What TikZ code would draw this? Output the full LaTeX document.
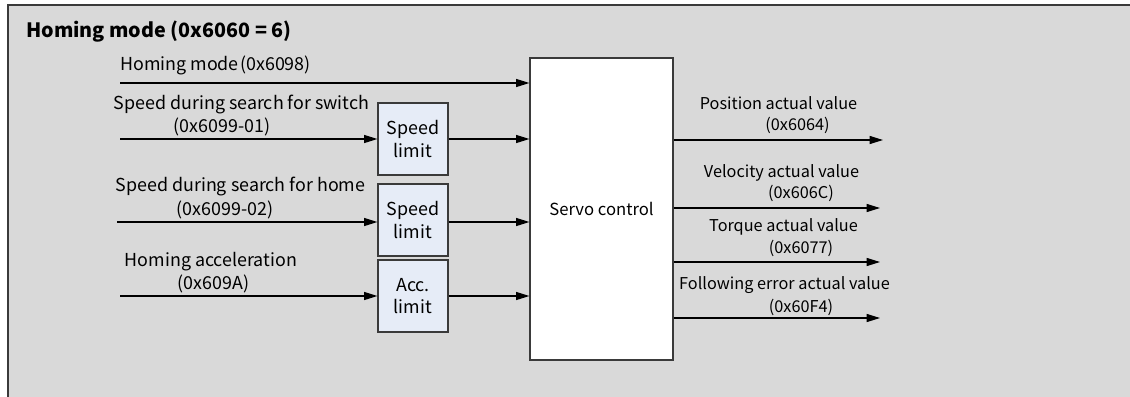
\documentclass[tikz,border=0pt]{standalone}
\usepackage{fontspec}
\setmainfont{Noto Sans CJK SC}
\usetikzlibrary{arrows.meta}
\definecolor{bggray}{HTML}{D9D9D9}
\definecolor{boxblue}{HTML}{E6ECF7}
\definecolor{edge}{HTML}{3A3A3A}
\tikzset{
  lbl/.style={inner sep=0pt, font=\fontsize{13.4}{15}\selectfont},
  rlbl/.style={inner sep=0pt, font=\fontsize{12.2}{14}\selectfont},
  limbox/.style={draw=edge, line width=0.9pt, fill=boxblue, minimum width=52.5pt, minimum height=54pt, inner sep=0pt, align=center, font=\fontsize{13.4}{17}\selectfont},
  servobox/.style={draw=edge, line width=0.9pt, fill=white, minimum width=107.25pt, minimum height=226.5pt, inner sep=0pt, font=\fontsize{12.5}{15}\selectfont},
  sig/.style={line width=0.9pt, -{Triangle[length=10pt, width=6pt]}},
}
\begin{document}
\begin{tikzpicture}[x=0.75pt, y=-0.75pt]
\useasboundingbox (0,0) rectangle (1130,396);
\fill[bggray] (8,5) rectangle (1135,400);
\draw[edge, line width=1.1pt] (8,400) -- (8,5) -- (1135,5);
\node[anchor=west, inner sep=0pt, font=\fontsize{14.8}{17}\selectfont\bfseries] (title) at (26,32) {Homing mode (0x6060 = 6)};

\node[servobox] (servo) at (601.5,209) {Servo control};
\node[limbox] (sp1) at (413,139) {Speed\\limit};
\node[limbox] (sp2) at (413,220) {Speed\\limit};
\node[limbox] (acc) at (413,296) {Acc.\\limit};

\coordinate (in0) at (120,83);
\coordinate (in1) at (120,139);
\coordinate (in2) at (117,222);
\coordinate (in3) at (120,296);

\draw[sig] (in0) -- (in0 -| servo.west);
\draw[sig] (in1) -- (in1 -| sp1.west);
\draw[sig] (in2) -- (in2 -| sp2.west);
\draw[sig] (in3) -- (in3 -| acc.west);
\draw[sig] (sp1.east) -- (sp1.east -| servo.west);
\draw[sig] (sp2.east |- in2) -- (in2 -| servo.west);
\draw[sig] (acc.east) -- (acc.east -| servo.west);

\node[lbl, anchor=west] (l0) at (120,65) {Homing mode\hspace{0.08em}(0x6098)};
\node[lbl] (l1a) at (241.5,105) {Speed during search for switch};
\node[lbl] (l1b) at (222,127) {(0x6099-01)};
\node[lbl] (l2a) at (240.5,187) {Speed during search for home};
\node[lbl] (l2b) at (225,210) {(0x6099-02)};
\node[lbl] (l3a) at (211,262) {Homing acceleration};
\node[lbl] (l3b) at (213.5,284) {(0x609A)};

\coordinate (o0) at (883,140);
\coordinate (o1) at (880,208);
\coordinate (o2) at (880,262);
\coordinate (o3) at (880,318);
\draw[sig] (o0 -| servo.east) -- (o0);
\draw[sig] (o1 -| servo.east) -- (o1);
\draw[sig] (o2 -| servo.east) -- (o2);
\draw[sig] (o3 -| servo.east) -- (o3);

\node[rlbl] (r0a) at (778.5,103) {Position actual value};
\node[rlbl] (r0b) at (797.5,125) {(0x6064)};
\node[rlbl] (r1a) at (781.5,173) {Velocity actual value};
\node[rlbl] (r1b) at (801,193) {(0x606C)};
\node[rlbl] (r2a) at (783.5,227) {Torque actual value};
\node[rlbl] (r2b) at (801,248) {(0x6077)};
\node[rlbl] (r3a) at (784.5,285) {Following error actual value};
\node[rlbl] (r3b) at (801,307) {(0x60F4)};
\end{tikzpicture}
\end{document}
